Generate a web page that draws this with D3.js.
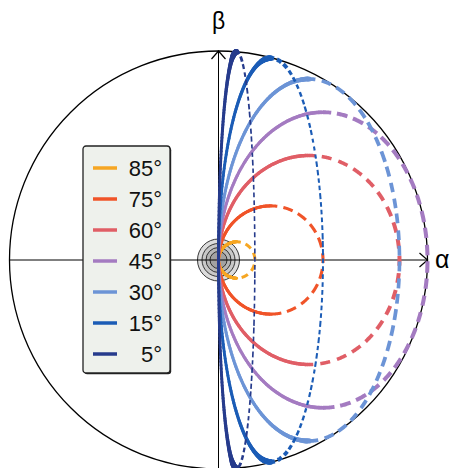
<!DOCTYPE html>
<html>
<head>
<meta charset="utf-8">
<script src="https://cdn.jsdelivr.net/npm/d3@7"></script>
<style>
  html, body { margin: 0; padding: 0; background: #fff; }
  svg { display: block; font-family: "Liberation Sans", Arial, sans-serif; }
</style>
</head>
<body>
<div id="chart"></div>
<script>
// incidence angles shown in the legend
var angles = [85, 75, 60, 45, 30, 15, 5];
var labels = ["85°", "75°", "60°", "45°", "30°", "15°", "5°"];
var colors = ["#f6a623", "#f05429", "#e05e66", "#a47bc1", "#6c94d6", "#1b5cb6", "#263b8c"];
// ellipse, in units of the outer circle radius
// (left edge always touches the origin, so centre x == half width)
var halfWidth  = [0.087, 0.25, 0.433, 0.5, 0.433, 0.25, 0.087];
var halfHeight = [0.087, 0.259, 0.5, 0.707, 0.866, 0.966, 0.996];

var W = 457, H = 468;
var cx = 218.5, cy = 260, R = 209;

var svg = d3.select("#chart").append("svg")
  .attr("width", W)
  .attr("height", H);

var x = d3.scaleLinear().domain([-1, 1]).range([cx - R, cx + R]);
var y = d3.scaleLinear().domain([-1, 1]).range([cy + R, cy - R]);

// outer circle
svg.append("circle")
  .attr("cx", x(0)).attr("cy", y(0)).attr("r", x(1) - x(0))
  .attr("fill", "none").attr("stroke", "#000").attr("stroke-width", 1.3);

// grey target at the origin
var rings = [21, 16.5, 12.5, 8.5];
var ringFill = ["#dcdcdc", "#c8c8c8", "#b6b6b6", "#a2a2a2"];
svg.selectAll("circle.ring")
  .data(rings)
  .enter()
  .append("circle")
  .attr("class", "ring")
  .attr("cx", x(0)).attr("cy", y(0))
  .attr("r", function (d) { return d; })
  .attr("fill", function (d, i) { return ringFill[i]; })
  .attr("stroke", "#222").attr("stroke-width", 0.9);

// axes
svg.append("line")
  .attr("x1", x(-1)).attr("y1", y(0)).attr("x2", x(1)).attr("y2", y(0))
  .attr("stroke", "#000").attr("stroke-width", 1);
svg.append("line")
  .attr("x1", x(0)).attr("y1", H).attr("x2", x(0)).attr("y2", y(1))
  .attr("stroke", "#000").attr("stroke-width", 1);
svg.append("path")
  .attr("d", "M" + (x(1) - 8) + "," + (y(0) - 7) + "L" + x(1) + "," + y(0) + "L" + (x(1) - 8) + "," + (y(0) + 7))
  .attr("fill", "none").attr("stroke", "#000").attr("stroke-width", 1.2);
svg.append("path")
  .attr("d", "M" + (x(0) - 7) + "," + (y(1) + 8) + "L" + x(0) + "," + y(1) + "L" + (x(0) + 7) + "," + (y(1) + 8))
  .attr("fill", "none").attr("stroke", "#000").attr("stroke-width", 1.2);

svg.append("text").attr("x", x(0)).attr("y", 29)
  .attr("text-anchor", "middle").attr("font-size", 23).text("β");
svg.append("text").attr("x", 435).attr("y", 268)
  .attr("font-size", 25).text("α");

// line width grows toward the rim
function lw(px, py, base, cap) {
  var r = Math.sqrt(x.invert(px) * x.invert(px) + y.invert(py) * y.invert(py));
  var s = 0.75 + 0.25 / Math.sqrt(Math.max(0.001, 1 - r * r));
  return base * Math.min(cap, s);
}

function arcPoints(i, from, to, n) {
  var pts = [];
  for (var k = 0; k <= n; k++) {
    var t = (from + (to - from) * k / n) * Math.PI / 180;
    pts.push([x(halfWidth[i] * (1 + Math.cos(t))), y(halfHeight[i] * Math.sin(t))]);
  }
  return pts;
}

var dashes = [[7, 5], [10, 6], [10, 7], [11, 6], [10, 6], [5, 3], [5, 3]];
var base = [3, 3, 3.2, 3, 3, 2.8, 2.8];
var thinBase = [3, 3, 3.2, 3, 2.9, 1.9, 1.6];
var thinCap = [1.4, 1.4, 1.4, 1.35, 1.3, 2.2, 1.8];

for (var i = 0; i < angles.length; i++) {
  var g = svg.append("g").attr("stroke", colors[i]).attr("fill", "none");

  // dashed far half (right side), top -> bottom
  var dp = arcPoints(i, 90, -90, 400);
  var on = dashes[i][0], off = dashes[i][1], s = off * 0.6, cur = null;
  for (var k = 1; k < dp.length; k++) {
    var a = dp[k - 1], b = dp[k];
    var len = Math.hypot(b[0] - a[0], b[1] - a[1]);
    var ph = s % (on + off);
    if (ph < on) {
      if (!cur) cur = [a];
      cur.push(b);
    } else if (cur) {
      var m = cur[Math.floor(cur.length / 2)];
      g.append("path").attr("d", d3.line()(cur))
        .attr("stroke-width", lw(m[0], m[1], thinBase[i], thinCap[i]));
      cur = null;
    }
    s += len;
  }
  if (cur) {
    var m2 = cur[Math.floor(cur.length / 2)];
    g.append("path").attr("d", d3.line()(cur))
      .attr("stroke-width", lw(m2[0], m2[1], thinBase[i], thinCap[i]));
  }

  // solid near half (left side)
  var sp = arcPoints(i, 90, 270, 160);
  for (var k2 = 1; k2 < sp.length; k2++) {
    g.append("line")
      .attr("x1", sp[k2 - 1][0]).attr("y1", sp[k2 - 1][1])
      .attr("x2", sp[k2][0]).attr("y2", sp[k2][1])
      .attr("stroke-linecap", "round")
      .attr("stroke-width", lw(sp[k2][0], sp[k2][1], base[i], 2));
  }
}

// legend
var lg = svg.append("g").attr("transform", "translate(83,146)");
lg.append("rect").attr("x", 1.2).attr("y", 1.2).attr("width", 87).attr("height", 227)
  .attr("rx", 3).attr("fill", "#222");
lg.append("rect").attr("x", 0).attr("y", 0).attr("width", 87).attr("height", 227)
  .attr("rx", 3).attr("fill", "#eef1ec").attr("stroke", "#222").attr("stroke-width", 1.3);

var rows = lg.selectAll("g.row")
  .data(labels)
  .enter()
  .append("g")
  .attr("class", "row")
  .attr("transform", function (d, i) { return "translate(0," + (22 + i * 31) + ")"; });
rows.append("line")
  .attr("x1", 10).attr("x2", 34).attr("y1", 0).attr("y2", 0)
  .attr("stroke", function (d, i) { return colors[i]; })
  .attr("stroke-width", 3.5);
rows.append("text")
  .attr("x", 79).attr("y", 8)
  .attr("text-anchor", "end")
  .attr("font-size", 22)
  .attr("fill", "#111")
  .text(function (d) { return d; });
</script>
</body>
</html>
